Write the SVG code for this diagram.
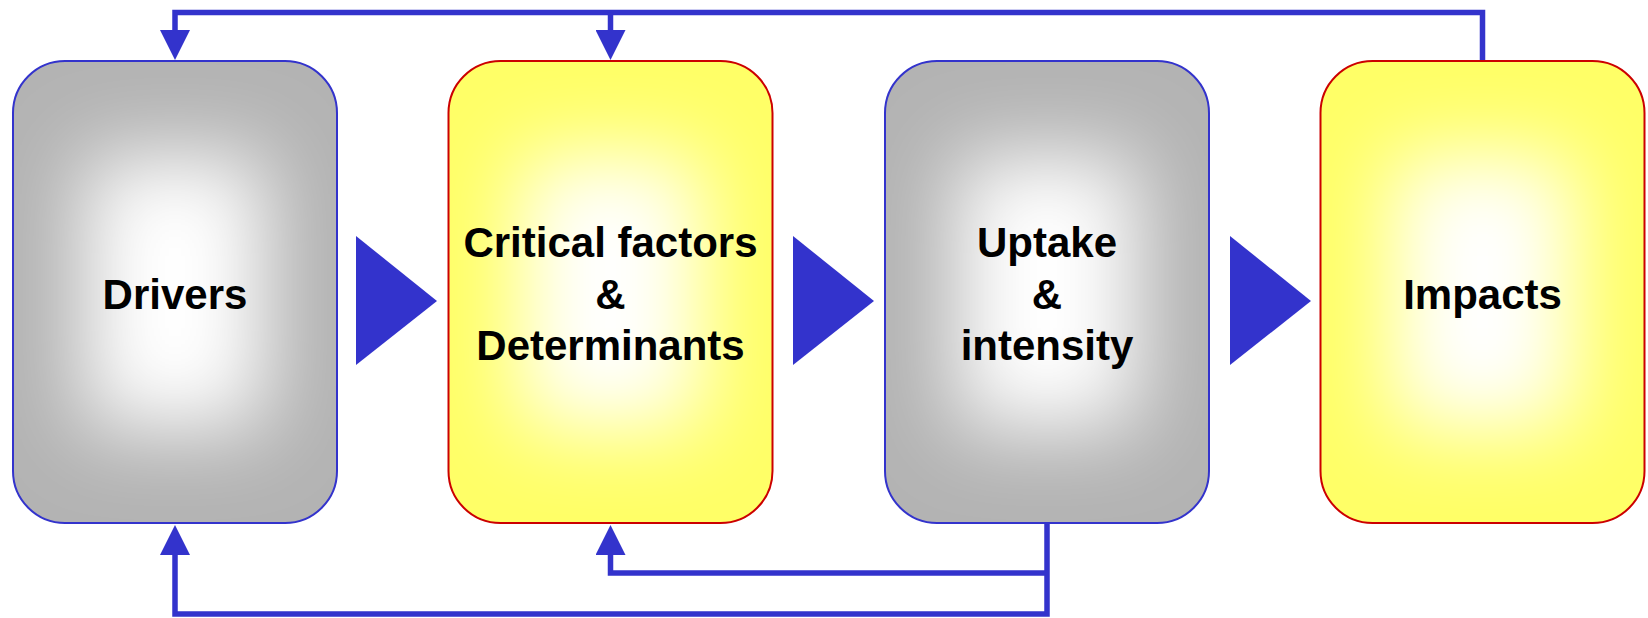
<svg xmlns="http://www.w3.org/2000/svg" width="1648" height="618" viewBox="0 0 1648 618">
  <defs>
    <!-- soft white glow that lightens each box towards its centre -->
    <filter id="glow" x="-80%" y="-80%" width="260%" height="260%">
      <feGaussianBlur stdDeviation="42"/>
    </filter>
    <clipPath id="clip-drivers"><rect x="13" y="61" width="324" height="462" rx="52"/></clipPath>
    <clipPath id="clip-critical"><rect x="448.5" y="61" width="324" height="462" rx="52"/></clipPath>
    <clipPath id="clip-uptake"><rect x="885" y="61" width="324" height="462" rx="52"/></clipPath>
    <clipPath id="clip-impacts"><rect x="1320.5" y="61" width="324" height="462" rx="52"/></clipPath>
    <marker id="head" viewBox="0 -15 30 30" refX="0" refY="0" markerWidth="30" markerHeight="30" markerUnits="userSpaceOnUse" orient="auto">
      <path d="M0,-15 L30,0 L0,15 Z" fill="#3333cc"/>
    </marker>
  </defs>
  <style>
    .gray { fill: #b3b3b3; }
    .yellow { fill: #ffff66; }
    .core { fill: #ffffff; filter: url(#glow); }
    .edge-blue { fill: none; stroke: #3333cc; stroke-width: 2; }
    .edge-red { fill: none; stroke: #cc0000; stroke-width: 2; }
    .label { font-family: "Liberation Sans", Arial, sans-serif; font-weight: bold; font-size: 42px; fill: #000000; text-anchor: middle; }
    .link { fill: none; stroke: #3333cc; stroke-width: 5.5; stroke-linejoin: miter; marker-end: url(#head); }
    .step { fill: #3333cc; }
  </style>

  <!-- Feedback and flow connectors -->
  <g id="connectors">
    <path class="link" d="M1482.5,61 V12.5 H175 V30"/>
    <path class="link" d="M610.5,12.5 V30"/>
    <path class="link" d="M1047,523 V614 H175 V555"/>
    <path class="link" d="M1047,573 H610.5 V555"/>
    <polygon class="step" points="356,236 437,301 356,365"/>
    <polygon class="step" points="793,236 874,301 793,365"/>
    <polygon class="step" points="1230,236 1311,301 1230,365"/>
  </g>

  <g id="drivers">
    <g clip-path="url(#clip-drivers)">
      <rect class="gray" x="13" y="61" width="324" height="462"/>
      <rect class="core" x="85" y="156" width="180" height="272"/>
    </g>
    <rect class="edge-blue" x="13" y="61" width="324" height="462" rx="52"/>
    <text class="label" x="175" y="309">Drivers</text>
  </g>

  <g id="critical-factors">
    <g clip-path="url(#clip-critical)">
      <rect class="yellow" x="448.5" y="61" width="324" height="462"/>
      <rect class="core" x="520.5" y="156" width="180" height="272"/>
    </g>
    <rect class="edge-red" x="448.5" y="61" width="324" height="462" rx="52"/>
    <text class="label" x="610.5" y="257">Critical factors</text>
    <text class="label" x="610.5" y="308.5">&amp;</text>
    <text class="label" x="610.5" y="360">Determinants</text>
  </g>

  <g id="uptake">
    <g clip-path="url(#clip-uptake)">
      <rect class="gray" x="885" y="61" width="324" height="462"/>
      <rect class="core" x="957" y="156" width="180" height="272"/>
    </g>
    <rect class="edge-blue" x="885" y="61" width="324" height="462" rx="52"/>
    <text class="label" x="1047" y="257">Uptake</text>
    <text class="label" x="1047" y="308.5">&amp;</text>
    <text class="label" x="1047" y="360">intensity</text>
  </g>

  <g id="impacts">
    <g clip-path="url(#clip-impacts)">
      <rect class="yellow" x="1320.5" y="61" width="324" height="462"/>
      <rect class="core" x="1392.5" y="156" width="180" height="272"/>
    </g>
    <rect class="edge-red" x="1320.5" y="61" width="324" height="462" rx="52"/>
    <text class="label" x="1482.5" y="309">Impacts</text>
  </g>
</svg>
